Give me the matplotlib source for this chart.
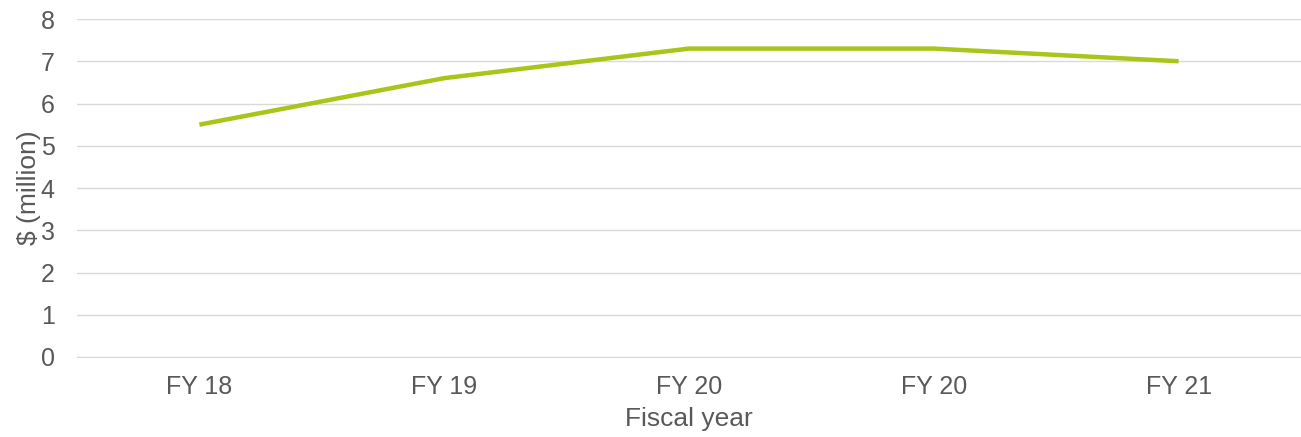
import matplotlib.pyplot as plt

years = ["FY 18", "FY 19", "FY 20", "FY 20", "FY 21"]
spend = [5.5, 6.6, 7.3, 7.3, 7.0]
yticks = [0, 1, 2, 3, 4, 5, 6, 7, 8]

plt.rcParams['font.family'] = ['Liberation Sans', 'DejaVu Sans']

fig = plt.figure(figsize=(13.01, 4.37), dpi=100)
ax = fig.add_axes([77 / 1301, 80 / 437, 1224 / 1301, 338 / 437])

xs = range(len(years))
ax.plot(xs, spend, color="#a9c51a", linewidth=3.2, solid_capstyle="butt")

ax.set_xlim(-0.5, len(years) - 0.5)
ax.set_ylim(0, 8)
ax.set_yticks(yticks)
ax.set_xticks(list(xs))
ax.set_xticklabels(years)
ax.grid(axis="y", color="#d9d9d9", linewidth=1)
ax.set_axisbelow(True)
for s in ax.spines.values():
    s.set_visible(False)
ax.spines["bottom"].set_visible(True)
ax.spines["bottom"].set_color("#d9d9d9")
ax.tick_params(length=0, labelsize=18, colors="#595959")
ax.tick_params(axis="x", pad=13)
ax.tick_params(axis="y", pad=16)

ax.set_xlabel("Fiscal year", fontsize=19, color="#595959", labelpad=6)
ax.set_ylabel("$ (million)", fontsize=19, color="#595959", labelpad=0)

fig.savefig("out.png", dpi=100)
